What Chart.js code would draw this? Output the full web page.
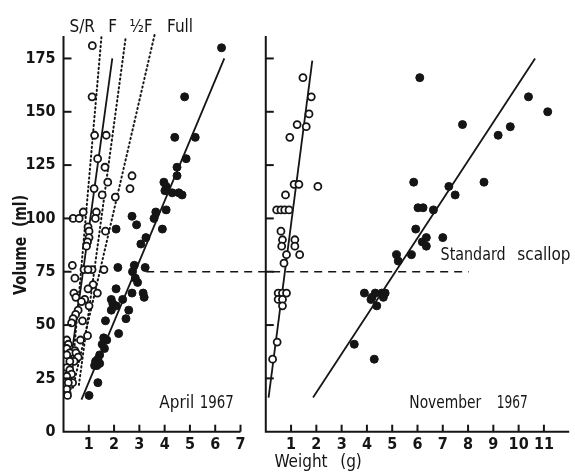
<!DOCTYPE html>
<html>
<head>
<meta charset="utf-8">
<script src="https://cdn.jsdelivr.net/npm/chart.js@4/dist/chart.umd.min.js"></script>
<style>
  html,body{margin:0;padding:0;background:#fff}
  #wrap{width:575px;height:475px}
</style>
</head>
<body>
<div id="wrap"><canvas id="scallop" width="575" height="475"></canvas></div>
<script>
// both panels share one linear x scale; the November panel is shifted right by NOV_OFFSET
const NOV_OFFSET = 8;
const yTicks = [0, 25, 50, 75, 100, 125, 150, 175];
const aprilTicks = [1, 2, 3, 4, 5, 6, 7];
const novTicks = [1, 2, 3, 4, 5, 6, 7, 8, 9, 10, 11];

// April 1967, open circles (weight g, volume ml)
const aprilOpen = [[1.14,181],[1.13,157],[1.23,139],[1.69,139],[1.35,128],[1.64,124],[1.75,117],[2.71,120],[2.63,114],
  [1.21,114],[1.53,111],[2.05,110],[0.78,103],[1.30,103],[0.38,100],[0.62,100],[1.26,100],[0.97,96],[1.01,94],[1.66,94],
  [1.01,91],[0.95,89],[0.91,87],[0.35,78],[0.81,76],[1.13,76],[1.60,76],[0.97,76],[0.45,72],[1.17,69],[0.97,67],[1.34,65],
  [0.41,65],[0.49,63],[0.84,62],[0.71,61],[1.01,59],[0.58,57],[0.48,55],[0.38,53],[0.75,52],[0.32,51],[0.95,45],[0.67,43],
  [0.13,43],[0.19,41],[0.13,39],[0.45,38],[0.25,37],[0.49,37],[0.13,36],[0.58,35],[0.42,33],[0.25,33],[0.13,30],[0.25,29],
  [0.32,27],[0.13,26],[0.36,23],[0.19,23],[0.13,20],[0.16,17]];
// April 1967, filled circles
const aprilFull = [[6.25,180],[4.79,157],[4.40,138],[5.21,138],[4.85,128],[4.49,124],[4.49,120],[3.97,117],[4.06,115],
  [4.01,113],[4.30,112],[4.56,112],[4.69,111],[3.65,103],[4.06,104],[3.58,100],[2.71,101],[2.89,97],[2.08,95],[3.91,95],
  [3.26,91],[3.06,88],[2.15,77],[2.80,78],[3.23,77],[2.73,75],[2.84,72],[2.93,70],[2.08,67],[2.71,65],[3.15,65],[3.19,63],
  [2.34,62],[1.89,62],[1.95,60],[1.89,57],[2.08,59],[2.58,57],[2.47,53],[1.66,52],[2.18,46],[1.59,44],[1.71,43],[1.53,41],
  [1.62,39],[1.43,36],[1.36,34],[1.27,33],[1.23,31],[1.32,31],[1.43,32],[1.36,23],[1.01,17]];
// November 1967, open circles
const novOpen = [[1.47,166],[1.80,157],[1.71,149],[1.24,144],[1.60,143],[0.95,138],[1.12,116],[1.31,116],[2.06,115],
  [0.78,111],[0.43,104],[0.60,104],[0.75,104],[0.92,104],[0.60,94],[0.66,90],[0.63,87],[1.15,90],[1.15,87],[0.82,83],
  [1.34,83],[0.72,79],[0.49,65],[0.66,65],[0.82,65],[0.49,62],[0.66,62],[0.66,59],[0.45,42],[0.27,34]];
// November 1967, filled circles
const novFull = [[6.09,166],[10.39,157],[11.15,150],[7.78,144],[9.67,143],[9.19,139],[5.85,117],[8.63,117],[7.24,115],
  [7.49,111],[6.02,105],[6.22,105],[6.63,104],[5.93,95],[6.35,91],[7.00,91],[6.19,89],[6.35,87],[5.17,83],[5.76,83],
  [5.24,80],[3.90,65],[4.20,63],[4.33,65],[4.59,65],[4.72,65],[4.16,62],[4.39,59],[4.65,63],[3.50,41],[4.29,34]];

// fitted lines, end points
const aprilSRLine = [[1.50,185],[0.25,15]];
const aprilFLine = [[1.93,175],[0.10,17]];
const aprilHalfLine = [[2.45,184],[0.61,22]];
const aprilFullDotLine = [[3.60,186],[0.36,20]];
const aprilFullLine = [[6.36,175],[0.71,15]];
const novOpenLine = [[1.84,174],[0.11,16]];
const novFullLine = [[10.65,175],[1.87,16]];
const standardLine = [[3.27,75],[16.03,75]]; // on the shared x scale

const INK = '#151515';
const FONT = "'Liberation Sans Narrow','DejaVu Sans Condensed',sans-serif";

// text pieces: word, centre x / y in data units of the shared scales, max width px
const words = [
  ['S/R', 0.74, 189.3, 28], ['F', 1.94, 189.3, 10], ['\u00BDF', 3.07, 189.3, 23], ['Full', 4.61, 189.3, 27],
  ['April', 4.48, 13.4, 39], ['1967', 6.06, 13.4, 34],
  ['November', 15.10, 13.4, 72], ['1967', 17.75, 13.4, 31],
  ['Standard', 16.20, 82.8, 65], ['scallop', 19.0, 82.8, 58]
];

const pts = (arr, off=0) => arr.map(p=>({x:p[0]+off, y:p[1]}));

function pointSet(arr, off, filled){
  return {data:pts(arr, off), pointStyle:'circle', pointRadius: filled?4:3.5,
    backgroundColor: filled?INK:'#fff', borderColor:INK, borderWidth: filled?1:1.8, order:0};
}
function lineSet(arr, off, dash, w){
  return {data:pts(arr, off), showLine:true, pointRadius:0, borderColor:INK, borderWidth:w||1.8,
    borderDash:dash||[], borderCapStyle: dash&&dash[0]<2?'round':'butt', order:1, clip:false};
}

const panels = [{off:0, len:7, ticks:aprilTicks},{off:NOV_OFFSET, len:12, ticks:novTicks}];

const frame = {
  id:'frame',
  afterDraw(chart){
    const {ctx, scales:{x, y}} = chart;
    const seg = (a,b,c,d)=>{ctx.beginPath();ctx.moveTo(a,b);ctx.lineTo(c,d);ctx.stroke();};
    ctx.save();
    ctx.strokeStyle = INK; ctx.lineWidth = 2;
    const y0 = y.getPixelForValue(0), yTop = y.getPixelForValue(185.5);
    panels.forEach(p=>{
      const xl = x.getPixelForValue(p.off), xr = x.getPixelForValue(p.off+p.len);
      ctx.beginPath(); ctx.moveTo(xl,yTop); ctx.lineTo(xl,y0); ctx.lineTo(xr,y0); ctx.stroke();
      yTicks.forEach(v=>{ if(v){ const py=y.getPixelForValue(v); seg(xl,py,xl+8,py);} });
      p.ticks.forEach(v=>{ const px=x.getPixelForValue(p.off+v); seg(px,y0,px,y0-7); });
    });
    ctx.fillStyle = INK; ctx.textAlign='center'; ctx.textBaseline='middle';
    ctx.font = '17px '+FONT;
    words.forEach(w=>ctx.fillText(w[0], x.getPixelForValue(w[1]), y.getPixelForValue(w[2]), w[3]));
    ctx.fillText('Weight', 301, 463, 62);
    ctx.fillText('(g)', 351, 463, 24);
    ctx.translate(22, 245); ctx.rotate(-Math.PI/2);
    ctx.font = 'bold 17px '+FONT;
    ctx.fillText('Volume  (ml)', 0, 0, 100);
    ctx.restore();
  }
};

new Chart(document.getElementById('scallop'), {
  type:'scatter',
  data:{datasets:[
    pointSet(aprilOpen, 0, false), pointSet(aprilFull, 0, true),
    pointSet(novOpen, NOV_OFFSET, false), pointSet(novFull, NOV_OFFSET, true),
    lineSet(aprilSRLine, 0, [1.2,3.2], 2), lineSet(aprilHalfLine, 0, [1.2,3.2], 2), lineSet(aprilFullDotLine, 0, [1.2,3.2], 2),
    lineSet(aprilFLine, 0), lineSet(aprilFullLine, 0),
    lineSet(novOpenLine, NOV_OFFSET), lineSet(novFullLine, NOV_OFFSET),
    lineSet(standardLine, 0, [8,6], 1.6)
  ]},
  options:{
    responsive:false, animation:false, devicePixelRatio:1,
    layout:{padding:{top:35, right:0, left:0, bottom:0}},
    plugins:{legend:{display:false}, tooltip:{enabled:false}},
    scales:{
      x:{type:'linear', min:0, max:20,
        grid:{display:false, drawTicks:false}, border:{display:false},
        afterBuildTicks:s=>{ s.ticks = aprilTicks.map(v=>({value:v})).concat(novTicks.map(v=>({value:v+NOV_OFFSET}))); },
        afterFit:s=>{ s.height = 43.3; },
        ticks:{autoSkip:false, maxRotation:0, padding:4, color:INK, font:{family:FONT, size:16, weight:'bold'},
          callback:v=> v > 7.5 ? v-NOV_OFFSET : v}
      },
      y:{type:'linear', min:0, max:186,
        grid:{display:false, drawTicks:false}, border:{display:false},
        afterBuildTicks:s=>{ s.ticks = yTicks.map(v=>({value:v})); },
        afterFit:s=>{ s.width = 63.5; },
        ticks:{padding:8, color:INK, font:{family:FONT, size:16, weight:'bold'}}
      }
    }
  },
  plugins:[frame]
});
</script>
</body>
</html>
